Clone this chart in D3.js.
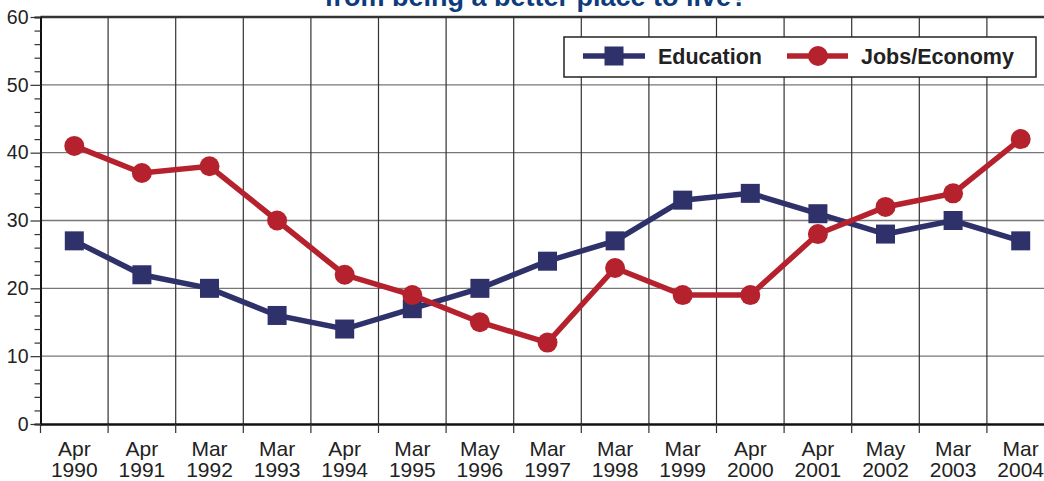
<!DOCTYPE html>
<html><head><meta charset="utf-8">
<script src="https://cdn.jsdelivr.net/npm/d3@7"></script>
<style>html,body{margin:0;padding:0;background:#fff;overflow:hidden}svg{display:block;font-family:"Liberation Sans",Arial,sans-serif}</style>
</head><body><svg id="c" width="1044" height="481"></svg>
<script>
const months = ["Apr","Apr","Mar","Mar","Apr","Mar","May","Mar","Mar","Mar","Apr","Apr","May","Mar","Mar"];
const years = ["1990","1991","1992","1993","1994","1995","1996","1997","1998","1999","2000","2001","2002","2003","2004"];
const education = [27,22,20,16,14,17,20,24,27,33,34,31,28,30,27];
const jobs = [41,37,38,30,22,19,15,12,23,19,19,28,32,34,42];
const yTicks = [0,10,20,30,40,50,60];
const title = "from being a better place to live?";
const seriesNames = ["Education","Jobs/Economy"];

(function(){
const svg = d3.select("#c");
const L = 40.5, step = 67.6, T = 17, B = 424;
const cats = years.map((y,i)=>i);
const x = d3.scaleBand().domain(cats).range([L, L + step*cats.length]).padding(0);
const y = d3.scaleLinear().domain([0,60]).range([B, T]);
const cx = i => x(i) + x.bandwidth()/2;
const navy = "#2f316b", red = "#b5222e";

// title (top line clipped by page, as in the reference)
svg.append("text").attr("x",536).attr("y",6).attr("text-anchor","middle")
  .attr("font-size",27).attr("font-weight","bold").attr("fill","#0d3b7c").text(title);

// horizontal gridlines
svg.append("g").selectAll("line").data(yTicks.filter(t=>t>0 && t<60)).join("line")
  .attr("x1",L).attr("x2",1044).attr("y1",d=>y(d)).attr("y2",d=>y(d))
  .attr("stroke","#777").attr("stroke-width",1.3);
// vertical gridlines
svg.append("g").selectAll("line").data(cats.slice(1)).join("line")
  .attr("x1",d=>x(d)).attr("x2",d=>x(d)).attr("y1",T).attr("y2",B)
  .attr("stroke","#333").attr("stroke-width",1.2);
// top border
svg.append("line").attr("x1",L).attr("x2",1044).attr("y1",y(60)).attr("y2",y(60))
  .attr("stroke","#333").attr("stroke-width",2.5);

// y axis
const yAxis = d3.axisLeft(y).tickValues(d3.range(0,61,2)).tickSize(6).tickFormat(d=> d%10===0 ? d : "");
const gy = svg.append("g").attr("transform",`translate(${L},0)`).call(yAxis);
gy.select(".domain").attr("stroke","#111").attr("stroke-width",2);
gy.selectAll(".tick line").attr("stroke","#333").attr("stroke-width",1.2)
  .attr("x2",d=> d%10===0 ? -10 : -6);
gy.selectAll(".tick text").attr("x",-12).attr("font-size",19.5).attr("fill","#222")
  .attr("font-family","Liberation Sans, Arial, sans-serif");

// x axis
const xAxis = d3.axisBottom(x).tickValues([]).tickSizeOuter(0);
const gx = svg.append("g").attr("transform",`translate(0,${B})`).call(xAxis);
gx.select(".domain").attr("stroke","#111").attr("stroke-width",2.5);
gx.selectAll("line.bt").data(cats.concat([cats.length])).join("line").attr("class","bt")
  .attr("x1",d=> d<cats.length ? x(d) : x(cats.length-1)+x.bandwidth())
  .attr("x2",d=> d<cats.length ? x(d) : x(cats.length-1)+x.bandwidth())
  .attr("y1",0).attr("y2",9).attr("stroke","#333").attr("stroke-width",1.2);
const lab = svg.append("g").selectAll("text").data(cats).join("text")
  .attr("x",d=>cx(d)).attr("text-anchor","middle").attr("font-size",21).attr("fill","#222");
lab.append("tspan").attr("x",d=>cx(d)).attr("y",456).text(d=>months[d]);
lab.append("tspan").attr("x",d=>cx(d)).attr("y",477).text(d=>years[d]);

// lines
const line = d3.line().x((d,i)=>cx(i)).y(d=>y(d));
svg.append("path").datum(education).attr("d",line).attr("fill","none").attr("stroke",navy).attr("stroke-width",5.5);
svg.append("g").selectAll("rect").data(education).join("rect")
  .attr("x",(d,i)=>cx(i)-9.5).attr("y",d=>y(d)-9.5).attr("width",19).attr("height",19).attr("fill",navy);
svg.append("path").datum(jobs).attr("d",line).attr("fill","none").attr("stroke",red).attr("stroke-width",5.5);
svg.append("g").selectAll("circle").data(jobs).join("circle")
  .attr("cx",(d,i)=>cx(i)).attr("cy",d=>y(d)).attr("r",10).attr("fill",red);

// legend
const lg = svg.append("g");
lg.append("rect").attr("x",564).attr("y",37).attr("width",472).attr("height",40)
  .attr("fill","#fff").attr("stroke","#222").attr("stroke-width",1.5);
lg.append("line").attr("x1",583).attr("x2",645).attr("y1",56).attr("y2",56).attr("stroke",navy).attr("stroke-width",5.5);
lg.append("rect").attr("x",614-9.5).attr("y",56-9.5).attr("width",19).attr("height",19).attr("fill",navy);
lg.append("text").attr("x",658).attr("y",63.5).attr("font-size",21.5).attr("font-weight","bold").attr("fill","#222").text(seriesNames[0]);
lg.append("line").attr("x1",787).attr("x2",848).attr("y1",56).attr("y2",56).attr("stroke",red).attr("stroke-width",5.5);
lg.append("circle").attr("cx",818).attr("cy",56).attr("r",10).attr("fill",red);
lg.append("text").attr("x",861).attr("y",63.5).attr("font-size",21.5).attr("font-weight","bold").attr("fill","#222").text(seriesNames[1]);
})();
</script></body></html>
